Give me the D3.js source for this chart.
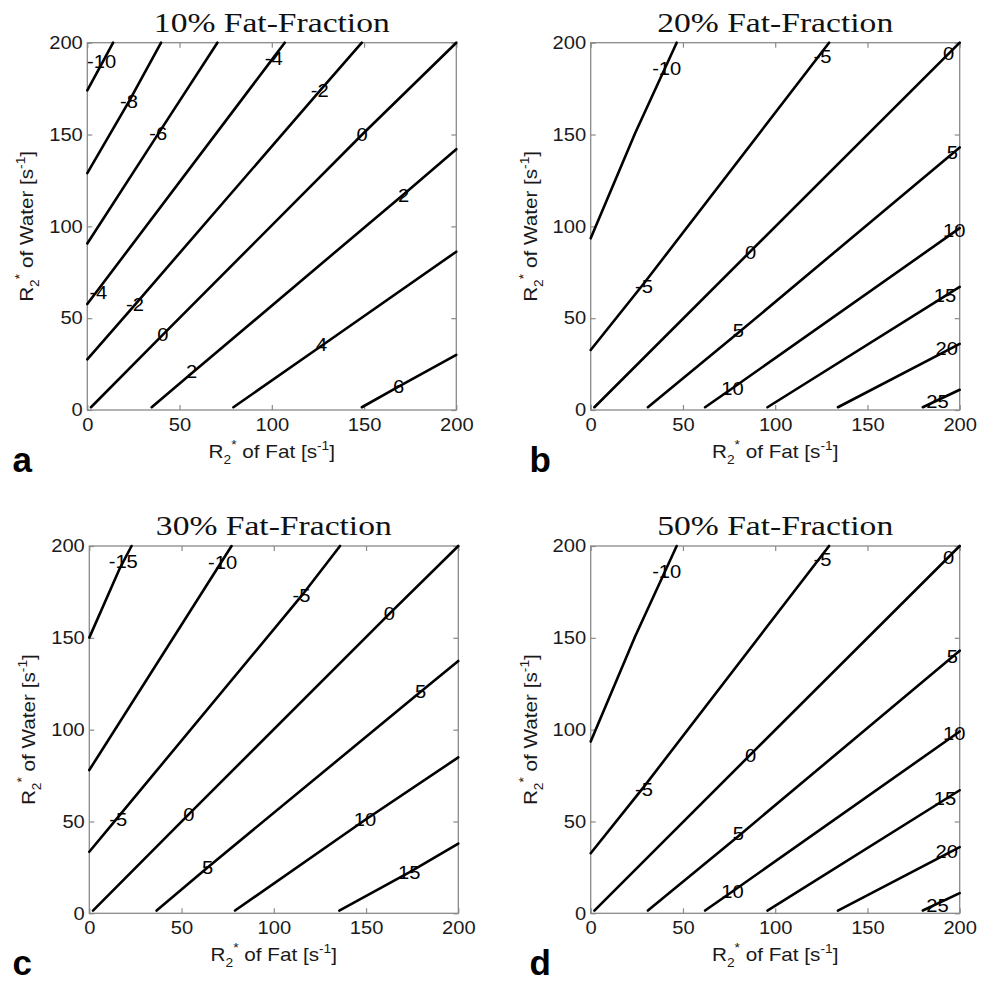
<!DOCTYPE html>
<meta charset="utf-8">
<script src="https://cdnjs.cloudflare.com/ajax/libs/d3/7.8.5/d3.min.js"></script>
<style>
  body { margin: 0; background: #fff; }
  text { font-family: "Liberation Sans", Arial, sans-serif; }
</style>
<div id="my_dataviz"></div>
<script>

// tick values shared by both axes
var ticks = [0, 50, 100, 150, 200];

// contour lines: [R2* fat, R2* water] points per level
var levels10 = [-10, -8, -6, -4, -2, 0, 2, 4, 6];
var contours10 = [
  [[0, 174], [7.8, 188.5], [14, 200]],
  [[0, 129], [22.6, 168], [40, 200]],
  [[0, 90.7], [38.5, 150.5], [70.5, 200]],
  [[0, 57.7], [101, 192], [107, 200]],
  [[0, 27.6], [25.9, 57.4], [126, 173.8], [148.8, 200]],
  [[2, 1.5], [41, 41], [149, 150], [200, 200]],
  [[34.9, 1.5], [56.6, 20], [171.4, 117.4], [200, 142]],
  [[79.2, 1.5], [127, 35], [200, 86.2]],
  [[148.8, 1.5], [168.7, 12.7], [200, 30]]
];
// [level, fat, water] of each inline label
var labels10 = [
  [-10, 7.8, 189.7], [-8, 22.6, 168], [-6, 38.5, 150.6],
  [-4, 6, 64], [-4, 101, 191.5], [-2, 25.9, 57.2], [-2, 126, 174],
  [0, 41, 41], [0, 149, 150], [2, 56.6, 20.9], [2, 171.4, 117],
  [4, 127, 35.4], [6, 168.7, 12.7]
];

var levels20 = [-10, -5, 0, 5, 10, 15, 20, 25];
var contours20 = [
  [[0, 93.5], [24, 150.6], [46.6, 200]],
  [[0, 32.7], [28.9, 69], [129.2, 200]],
  [[2, 1.5], [86.7, 86.5], [200, 200]],
  [[31, 1.5], [80, 42], [200, 143]],
  [[62, 1.5], [77, 12], [200, 99]],
  [[95.8, 1.5], [200, 67]],
  [[134, 1.5], [200, 36]],
  [[180, 1.5], [200, 11]]
];
var labels20 = [
  [-10, 41.2, 186], [-5, 28.9, 67.2], [-5, 125.6, 192.4],
  [0, 86.7, 86], [0, 194, 194], [5, 80, 43.5], [5, 196, 140],
  [10, 76.8, 11.8], [10, 197, 98], [15, 192, 62.6], [20, 193, 33.6],
  [25, 188, 4.5]
];

var levels30 = [-15, -10, -5, 0, 5, 10, 15];
var contours30 = [
  [[0, 150.1], [16.6, 188], [22.9, 200]],
  [[0, 78], [77.1, 200]],
  [[0, 33.5], [15.7, 52.5], [115, 172.8], [135.9, 200]],
  [[2, 1.5], [54, 54], [162.6, 163], [200, 200]],
  [[36.5, 1.5], [64.1, 25], [179.6, 120.6], [200, 137.4]],
  [[79, 1.5], [149.4, 50.8], [200, 84.9]],
  [[135.5, 1.5], [173.4, 22.3], [200, 38]]
];
var labels30 = [
  [-15, 18.4, 191.8], [-10, 72.3, 191], [-5, 15.7, 51.3], [-5, 115, 172.8],
  [0, 54, 54], [0, 162.6, 163], [5, 64.1, 25], [5, 179.6, 120.6],
  [10, 149.4, 50.8], [15, 173.4, 22.3]
];

// the 50% panel reads the same as the 20% one
var levels50 = [-10, -5, 0, 5, 10, 15, 20, 25];
var contours50 = [
  [[0, 93.5], [24, 150.6], [46.6, 200]],
  [[0, 32.7], [28.9, 69], [129.2, 200]],
  [[2, 1.5], [86.7, 86.5], [200, 200]],
  [[31, 1.5], [80, 42], [200, 143]],
  [[62, 1.5], [77, 12], [200, 99]],
  [[95.8, 1.5], [200, 67]],
  [[134, 1.5], [200, 36]],
  [[180, 1.5], [200, 11]]
];
var labels50 = [
  [-10, 41.2, 186], [-5, 28.9, 67.2], [-5, 125.6, 192.4],
  [0, 86.7, 86], [0, 194, 194], [5, 80, 43.5], [5, 196, 140],
  [10, 76.8, 11.8], [10, 197, 98], [15, 192, 62.6], [20, 193, 33.6],
  [25, 188, 4.5]
];

var titles = ["10% Fat-Fraction", "20% Fat-Fraction", "30% Fat-Fraction", "50% Fat-Fraction"];
var letters = ["a", "b", "c", "d"];

// layout of the four panels (plot area top-left corners)
var panels = [
  {left: 87.3,  top: 42.7, contours: contours10, labels: labels10},
  {left: 590.7, top: 42.7, contours: contours20, labels: labels20},
  {left: 89.3,  top: 546,  contours: contours30, labels: labels30},
  {left: 590.7, top: 546,  contours: contours50, labels: labels50}
];
var width = 369, height = 367.3;
var axisGrey = "#8a8a8a";
var textGrey = "#1a1a1a";
// the scanned figure is a little wider than tall, text too
var stretch = 1.12;

var svg = d3.select("#my_dataviz").append("svg")
    .attr("width", 988)
    .attr("height", 982);

function subSupLabel(t, word) {
  t.append("tspan").text("R");
  t.append("tspan").attr("dy", 6).style("font-size", "12px").text("2");
  t.append("tspan").attr("dy", -15).attr("dx", 0).style("font-size", "12px").text("*");
  t.append("tspan").attr("dy", 9).text(" of " + word + " [s");
  t.append("tspan").attr("dy", -8).style("font-size", "12px").text("-1");
  t.append("tspan").attr("dy", 8).text("]");
}

panels.forEach(function(p, i) {

  var x = d3.scaleLinear().domain([0, 200]).range([0, width]);
  var y = d3.scaleLinear().domain([0, 200]).range([height, 0]);

  var g = svg.append("g")
      .attr("transform", "translate(" + p.left + "," + p.top + ")");

  // title
  g.append("text")
      .attr("transform", "translate(" + (width / 2) + ",-11) scale(1.2,1)")
      .attr("text-anchor", "middle")
      .style("font-family", "'Liberation Serif', 'Times New Roman', serif")
      .style("font-size", "28px")
      .attr("fill", "#111")
      .text(titles[i]);

  // box and inward ticks on all four sides
  g.append("rect")
      .attr("width", width)
      .attr("height", height)
      .attr("fill", "none")
      .attr("stroke", axisGrey)
      .attr("stroke-width", 1.3);

  var sides = [
    {axis: d3.axisBottom(x), t: "translate(0," + height + ")", labels: true, pad: 8},
    {axis: d3.axisLeft(y), t: "translate(0,0)", labels: true, pad: 4},
    {axis: d3.axisTop(x), t: "translate(0,0)", labels: false, pad: 4},
    {axis: d3.axisRight(y), t: "translate(" + width + ",0)", labels: false, pad: 4}
  ];
  sides.forEach(function(s) {
    var a = g.append("g")
        .attr("transform", s.t)
        .call(s.axis.tickValues(ticks).tickSizeInner(-5).tickSizeOuter(0).tickPadding(s.pad));
    a.select(".domain").remove();
    a.selectAll(".tick line").attr("stroke", axisGrey).attr("stroke-width", 1.2);
    a.selectAll(".tick text")
        .style("font-family", "'Liberation Sans', Arial, sans-serif")
        .style("font-size", "18px")
        .attr("fill", textGrey)
        .attr("transform", "scale(" + stretch + ",1)");
    if (!s.labels) a.selectAll(".tick text").remove();
  });

  // contour lines
  var line = d3.line()
      .x(function(d) { return x(d[0]); })
      .y(function(d) { return y(d[1]); });

  g.selectAll(".contour")
    .data(p.contours)
    .enter()
    .append("path")
      .attr("class", "contour")
      .attr("d", line)
      .attr("fill", "none")
      .attr("stroke", "#000")
      .attr("stroke-width", 2.6)
      .attr("stroke-linecap", "round");

  // inline contour labels
  g.selectAll(".clabel")
    .data(p.labels)
    .enter()
    .append("text")
      .attr("class", "clabel")
      .attr("transform", function(d) {
        return "translate(" + x(d[1]) + "," + y(d[2]) + ") scale(" + stretch + ",1)";
      })
      .attr("dy", "0.36em")
      .attr("text-anchor", "middle")
      .style("font-size", "18px")
      .attr("fill", "#000")
      .text(function(d) { return d[0]; });

  // x axis label
  var xl = g.append("text")
      .attr("transform", "translate(" + (width / 2) + "," + (height + 48) + ") scale(1.15,1)")
      .attr("text-anchor", "middle")
      .style("font-size", "18px")
      .attr("fill", textGrey);
  subSupLabel(xl, "Fat");

  // y axis label
  var yl = g.append("text")
      .attr("transform", "translate(-54," + (height / 2) + ") rotate(-90) scale(1.15,1)")
      .attr("text-anchor", "middle")
      .style("font-size", "18px")
      .attr("fill", textGrey);
  subSupLabel(yl, "Water");

  // panel letter
  g.append("text")
      .attr("x", (i % 2 === 0 ? 12.5 : 529.5) - p.left)
      .attr("y", height + 62)
      .style("font-size", "35px")
      .style("font-weight", "bold")
      .attr("fill", "#000")
      .text(letters[i]);
});

</script>
